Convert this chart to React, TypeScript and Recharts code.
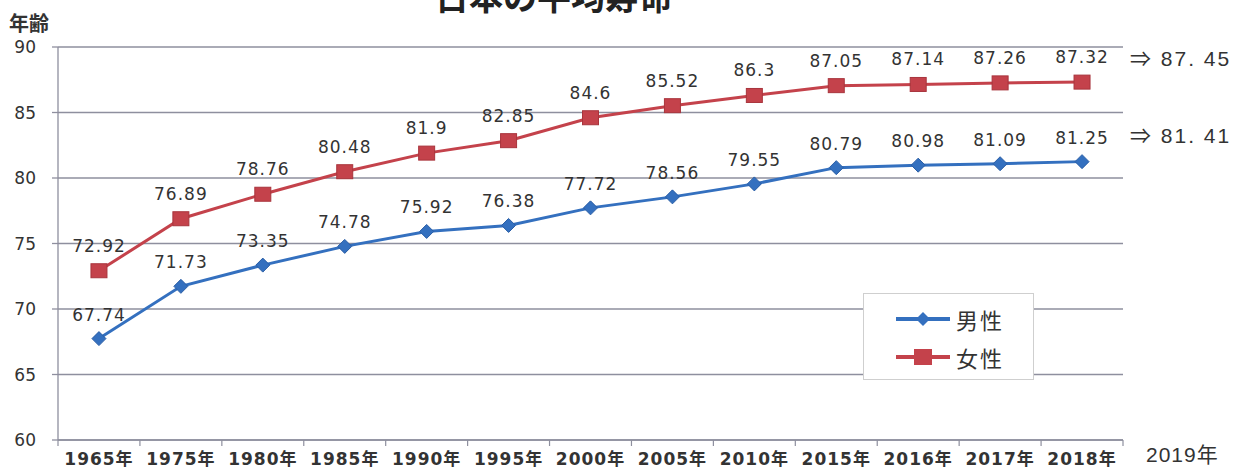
import React from 'react';
import { CartesianGrid, LabelList, Line, LineChart, XAxis, YAxis } from 'recharts';

const years = ['1965年', '1975年', '1980年', '1985年', '1990年', '1995年', '2000年', '2005年', '2010年', '2015年', '2016年', '2017年', '2018年'];
const male = [67.74, 71.73, 73.35, 74.78, 75.92, 76.38, 77.72, 78.56, 79.55, 80.79, 80.98, 81.09, 81.25];
const female = [72.92, 76.89, 78.76, 80.48, 81.9, 82.85, 84.6, 85.52, 86.3, 87.05, 87.14, 87.26, 87.32];
const yTicks = [60, 65, 70, 75, 80, 85, 90];
const forecast = { female: '⇒ 87. 45', male: '⇒ 81. 41', year: '2019年' };

const W = 1241;
const H = 470;
const PLOT_LEFT = 58;
const PLOT_RIGHT = 1123;
const BAND = (PLOT_RIGHT - PLOT_LEFT) / years.length;

const BLUE = '#3470bf';
const RED = '#c4424b';
const GRID = '#8e8f9e';
const TEXT = '#333';
const LABEL_FONT = '"DejaVu Sans", "Noto Sans CJK JP", sans-serif';

const data = years.map((year, i) => ({ year, male: male[i], female: female[i] }));

function XTick(props: any) {
  const { x, y, payload, index } = props;
  const left = x - BAND / 2;
  return (
    <g>
      <line x1={left} y1={y} x2={left} y2={y + 6} stroke={GRID} strokeWidth={1.2} />
      {index === years.length - 1 ? (
        <line x1={left + BAND} y1={y} x2={left + BAND} y2={y + 6} stroke={GRID} strokeWidth={1.2} />
      ) : null}
      <text
        x={x}
        y={y + 25}
        textAnchor="middle"
        fill={TEXT}
        fontSize={17}
        fontWeight="bold"
        letterSpacing={1}
        fontFamily={LABEL_FONT}
      >
        {payload.value}
      </text>
    </g>
  );
}

function SquareDot(props: any) {
  const { cx, cy, index } = props;
  if (cx == null || cy == null) return <g key={index} />;
  return <rect key={index} x={cx - 8} y={cy - 7} width={16} height={14} fill={RED} stroke="#a8343c" strokeWidth={1} />;
}

function DiamondDot(props: any) {
  const { cx, cy, index } = props;
  if (cx == null || cy == null) return <g key={index} />;
  const r = 7;
  return (
    <path
      key={index}
      d={`M${cx},${cy - r}L${cx + r},${cy}L${cx},${cy + r}L${cx - r},${cy}Z`}
      fill={BLUE}
      stroke="#2a5ea6"
      strokeWidth={1}
    />
  );
}

function LegendBox() {
  const row = (color: string, label: string, square: boolean) => (
    <div style={{ display: 'flex', alignItems: 'center', height: 38 }}>
      <svg width={58} height={20} style={{ marginRight: 4 }}>
        <line x1={2} y1={10} x2={56} y2={10} stroke={color} strokeWidth={4} />
        {square ? (
          <rect x={20} y={2} width={18} height={16} fill={color} />
        ) : (
          <path d="M29,3L36,10L29,17L22,10Z" fill={color} />
        )}
      </svg>
      <span style={{ fontSize: 22, letterSpacing: 2, color: TEXT, fontFamily: '"Noto Sans CJK JP", sans-serif' }}>{label}</span>
    </div>
  );
  return (
    <div
      style={{
        position: 'absolute',
        left: 863,
        top: 293,
        width: 171,
        height: 87,
        boxSizing: 'border-box',
        border: '1px solid #cfcfcf',
        background: '#fff',
        padding: '6px 0 0 30px',
      }}
    >
      {row(BLUE, '男性', false)}
      {row(RED, '女性', true)}
    </div>
  );
}

const sideText: React.CSSProperties = {
  position: 'absolute',
  left: 1130,
  fontSize: 21,
  color: TEXT,
  fontFamily: '"Liberation Sans", "Noto Sans CJK JP", sans-serif',
  letterSpacing: 2,
  lineHeight: '26px',
  whiteSpace: 'pre',
};

export default function App() {
  return (
    <div style={{ position: 'absolute', left: 0, top: 0, width: W, height: H, background: '#fff', overflow: 'hidden' }}>
      <div
        style={{
          position: 'absolute',
          left: 0,
          width: 1108,
          top: -24,
          textAlign: 'center',
          fontSize: 34,
          fontWeight: 'bold',
          color: '#222',
          fontFamily: '"Noto Sans CJK JP", sans-serif',
          lineHeight: '40px',
        }}
      >
        日本の平均寿命
      </div>
      <div
        style={{
          position: 'absolute',
          left: 9,
          top: 9,
          fontSize: 20,
          fontWeight: 'bold',
          color: TEXT,
          fontFamily: '"Noto Sans CJK JP", sans-serif',
          lineHeight: '28px',
        }}
      >
        年齢
      </div>

      <LineChart width={W} height={H} data={data} margin={{ top: 47, right: W - PLOT_RIGHT, bottom: 0, left: 0 }}>
        <CartesianGrid horizontal vertical={false} stroke={GRID} strokeWidth={1.3} />
        <XAxis
          dataKey="year"
          scale="band"
          height={30}
          axisLine={{ stroke: GRID, strokeWidth: 1.3 }}
          tickLine={false}
          tickSize={0}
          tickMargin={0}
          interval={0}
          tick={<XTick />}
        />
        <YAxis
          width={PLOT_LEFT}
          domain={[60, 90]}
          ticks={yTicks}
          interval={0}
          axisLine={{ stroke: GRID, strokeWidth: 1.3 }}
          tickLine={{ stroke: GRID, strokeWidth: 1.3 }}
          tickSize={6}
          tickMargin={16}
          tick={{ fill: TEXT, fontSize: 17, fontFamily: LABEL_FONT }}
        />
        <Line
          type="linear"
          dataKey="female"
          name="女性"
          stroke={RED}
          strokeWidth={3}
          dot={<SquareDot />}
          isAnimationActive={false}
        >
          <LabelList
            dataKey="female"
            position="top"
            offset={19}
            fill={TEXT}
            fontSize={17}
            fontFamily={LABEL_FONT}
            letterSpacing={1}
          />
        </Line>
        <Line
          type="linear"
          dataKey="male"
          name="男性"
          stroke={BLUE}
          strokeWidth={3}
          dot={<DiamondDot />}
          isAnimationActive={false}
        >
          <LabelList
            dataKey="male"
            position="top"
            offset={18}
            fill={TEXT}
            fontSize={17}
            fontFamily={LABEL_FONT}
            letterSpacing={1}
          />
        </Line>
      </LineChart>

      <LegendBox />

      <div style={{ ...sideText, top: 46 }}>{forecast.female}</div>
      <div style={{ ...sideText, top: 123 }}>{forecast.male}</div>
      <div style={{ ...sideText, left: 1146, top: 442, letterSpacing: 1 }}>{forecast.year}</div>
    </div>
  );
}
